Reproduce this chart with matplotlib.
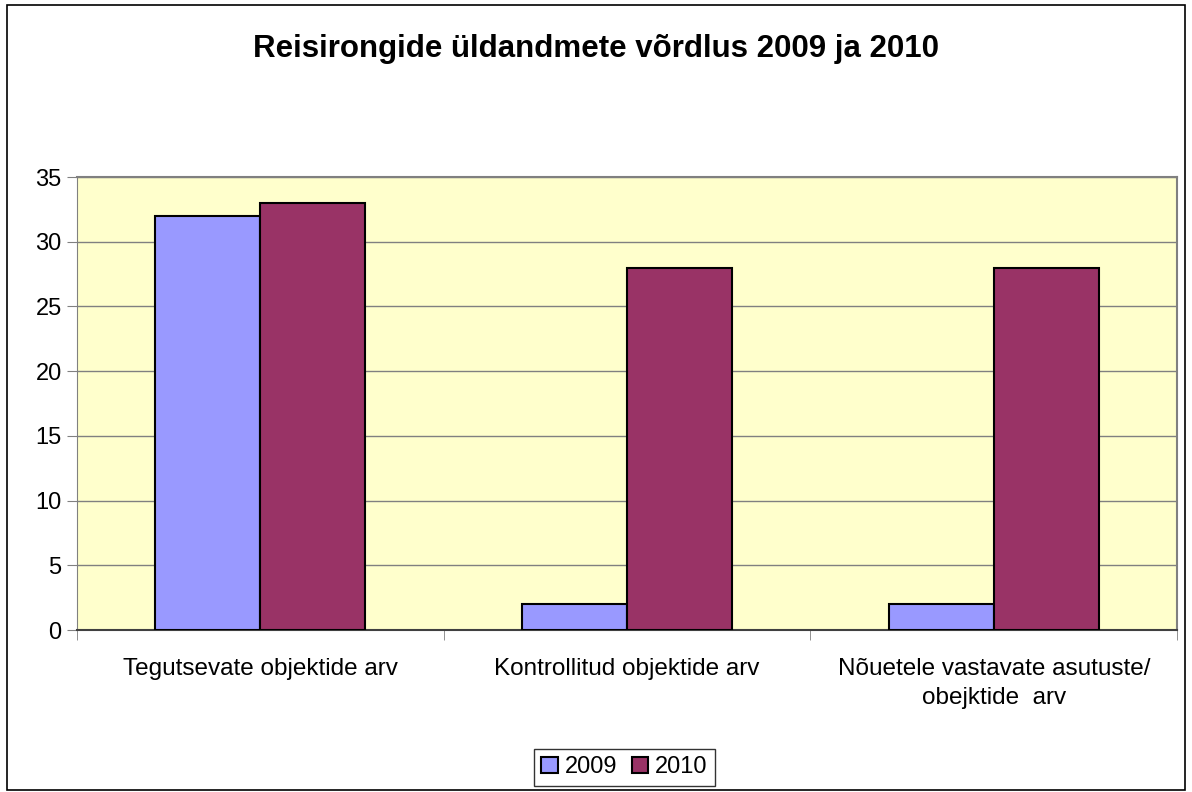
import matplotlib.pyplot as plt
import numpy as np
from matplotlib.patches import Rectangle

plt.rcParams['font.family'] = ['Liberation Sans', 'DejaVu Sans']

categories = ['Tegutsevate objektide arv', 'Kontrollitud objektide arv',
              'Nõuetele vastavate asutuste/\nobejktide  arv']
years = ['2009', '2010']
values_2009 = [32, 2, 2]
values_2010 = [33, 28, 28]
colors = ['#9999FF', '#993366']

fig = plt.figure(figsize=(11.92, 7.92), dpi=100)
ax = fig.add_axes([0.0646, 0.2045, 0.923, 0.572])
ax.set_facecolor('#FFFFCC')

x = np.arange(len(categories))
w = 0.286
ax.bar(x - w / 2, values_2009, w, color=colors[0], edgecolor='black', linewidth=1.5, label=years[0], zorder=3)
ax.bar(x + w / 2, values_2010, w, color=colors[1], edgecolor='black', linewidth=1.5, label=years[1], zorder=3)

ax.set_xlim(-0.5, len(categories) - 0.5)
ax.set_ylim(0, 35)
ax.set_yticks(range(0, 36, 5))
ax.tick_params(axis='y', labelsize=17, length=7, color='#808080', pad=4)
ax.yaxis.grid(True, color='#808080', linewidth=1, zorder=0)

ax.set_xticks(x)
ax.set_xticklabels(categories, fontsize=17.5, linespacing=1.45)
ax.tick_params(axis='x', length=0, pad=20)
ax.set_xticks(np.arange(-0.5, len(categories)), minor=True)
ax.tick_params(axis='x', which='minor', length=7, color='#808080')

for side in ['top', 'right']:
    ax.spines[side].set_color('#808080')
    ax.spines[side].set_linewidth(1.5)
ax.spines['left'].set_color('#808080')
ax.spines['bottom'].set_color('#404040')
ax.spines['bottom'].set_linewidth(1.5)

fig.text(0.5, 0.938, 'Reisirongide üldandmete võrdlus 2009 ja 2010',
         ha='center', va='center', fontsize=22.5, fontweight='bold')

leg = fig.legend(loc='center', bbox_to_anchor=(0.524, 0.031), ncol=2, fontsize=17,
                 frameon=True, fancybox=False, edgecolor='black', handlelength=0.7,
                 handleheight=0.7, handletextpad=0.3, columnspacing=0.6, borderpad=0.3)
leg.get_frame().set_linewidth(1)

fig.patches.append(Rectangle((0.006, 0.003), 0.988, 0.991, transform=fig.transFigure,
                             fill=False, edgecolor='black', linewidth=1.2))

fig.savefig('out.png', dpi=100)
